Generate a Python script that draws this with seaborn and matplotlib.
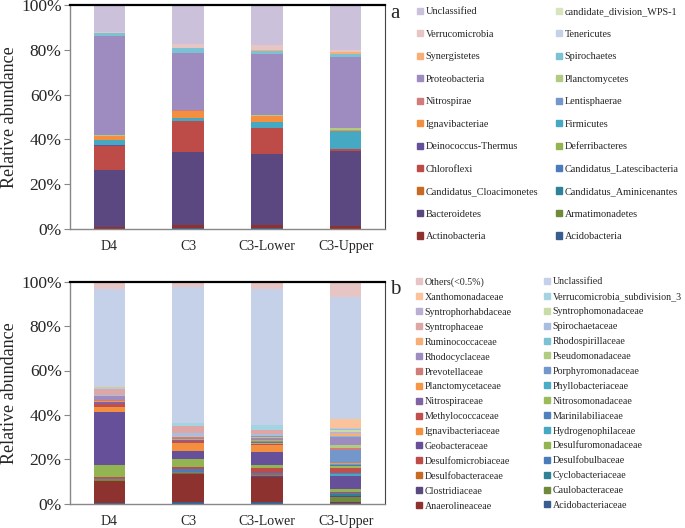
"""
Stacked relative-abundance bars at phylum (a) and family (b) level.
"""
import matplotlib
matplotlib.use("Agg")
import matplotlib.pyplot as plt
import matplotlib.patches as mpatches
import numpy as np
import seaborn as sns

sns.set_style("white")
plt.rcParams.update({
    "font.family": ["Liberation Serif", "DejaVu Serif"],
    "font.size": 10,
})

SAMPLES = ["D4", "C3", "C3-Lower", "C3-Upper"]

# ---- panel a: phyla, bottom of stack first; values per sample (%)
PHYLA = [
    "Acidobacteria", "Actinobacteria", "Armatimonadetes", "Bacteroidetes",
    "Candidatus_Aminicenantes", "Candidatus_Cloacimonetes",
    "Candidatus_Latescibacteria", "Chloroflexi", "Deferribacteres",
    "Deinococcus-Thermus", "Firmicutes", "Ignavibacteriae", "Lentisphaerae",
    "Nitrospirae", "Planctomycetes", "Proteobacteria", "Spirochaetes",
    "Synergistetes", "Tenericutes", "Verrucomicrobia",
    "candidate_division_WPS-1", "Unclassified",
]
PHYLA_VALUES = [
    [0.1, 0.5, 0.4, 0.1],
    [0.8, 1.1, 1.3, 1.1],
    [0.0, 0.1, 0.3, 0.1],
    [25.6, 32.7, 31.4, 33.6],
    [0.0, 0.0, 0.1, 0.0],
    [0.0, 0.1, 0.0, 0.0],
    [0.0, 0.0, 0.0, 0.1],
    [10.6, 13.8, 11.7, 0.6],
    [0.1, 0.0, 0.0, 0.1],
    [0.1, 0.0, 0.0, 0.0],
    [2.4, 1.2, 2.5, 8.1],
    [2.0, 3.4, 2.7, 0.2],
    [0.0, 0.0, 0.0, 0.0],
    [0.0, 0.1, 0.0, 0.3],
    [0.3, 0.2, 0.4, 0.8],
    [44.1, 25.4, 27.3, 31.8],
    [1.2, 2.0, 1.3, 1.2],
    [0.4, 0.2, 0.3, 0.8],
    [0.0, 0.1, 0.1, 0.1],
    [0.2, 1.5, 2.2, 0.8],
    [0.0, 0.0, 0.0, 0.3],
    [12.1, 17.6, 18.0, 19.9],
]

# ---- panel b: families
FAMILIES = [
    "Acidobacteriaceae", "Anaerolineaceae", "Caulobacteraceae", "Clostridiaceae",
    "Cyclobacteriaceae", "Desulfobacteraceae", "Desulfobulbaceae",
    "Desulfomicrobiaceae", "Desulfuromonadaceae", "Geobacteraceae",
    "Hydrogenophilaceae", "Ignavibacteriaceae", "Marinilabiliaceae",
    "Methylococcaceae", "Nitrosomonadaceae", "Nitrospiraceae",
    "Phyllobacteriaceae", "Planctomycetaceae", "Porphyromonadaceae",
    "Prevotellaceae", "Pseudomonadaceae", "Rhodocyclaceae", "Rhodospirillaceae",
    "Ruminococcaceae", "Spirochaetaceae", "Syntrophaceae", "Syntrophomonadaceae",
    "Syntrophorhabdaceae", "Verrucomicrobia_subdivision_3", "Xanthomonadaceae",
    "Unclassified", "Others(<0.5%)",
]
FAMILY_VALUES = [
    [0.1, 0.7, 0.6, 0.2],
    [10.1, 12.7, 11.3, 0.6],
    [0.3, 0.1, 0.2, 2.1],
    [0.2, 0.1, 0.2, 0.7],
    [0.1, 0.1, 0.2, 0.7],
    [0.5, 0.6, 0.3, 0.1],
    [0.4, 1.4, 1.2, 0.6],
    [0.5, 0.7, 2.2, 0.4],
    [5.1, 3.8, 1.1, 1.1],
    [24.1, 3.4, 6.1, 6.1],
    [0.1, 0.2, 0.1, 0.8],
    [2.0, 3.6, 2.9, 0.1],
    [0.0, 0.1, 0.1, 0.5],
    [1.4, 0.8, 0.6, 1.9],
    [0.1, 0.1, 0.2, 1.1],
    [0.8, 0.3, 0.5, 0.4],
    [0.1, 0.2, 0.3, 0.5],
    [0.3, 0.3, 0.6, 0.6],
    [0.2, 0.2, 0.5, 5.7],
    [0.1, 0.2, 0.4, 0.7],
    [0.1, 0.2, 0.3, 1.5],
    [1.8, 0.2, 0.4, 3.8],
    [0.1, 0.1, 0.2, 0.4],
    [0.2, 0.2, 0.2, 0.7],
    [0.3, 1.5, 0.5, 0.4],
    [2.6, 3.0, 2.0, 0.7],
    [0.1, 0.1, 0.1, 0.7],
    [0.1, 0.1, 0.1, 0.4],
    [0.9, 1.4, 2.0, 0.7],
    [0.1, 0.1, 0.1, 3.8],
    [43.8, 61.0, 61.1, 55.0],
    [3.4, 2.5, 3.4, 7.0],
]

# Excel-like palette: six hues, several shade levels
TONES = {
    "dark":     ["#385E8F", "#8E3230", "#6F8B3A", "#5C4880", "#2E8298", "#C86A21"],
    "base":     ["#4A7BBA", "#BD4B48", "#92B552", "#66509A", "#45A9C3", "#F48F3F"],
    "mid":      ["#4F81BD", "#C0504D", "#9BBB59", "#8064A2", "#4BACC6", "#F79646"],
    "light":    ["#7397CB", "#CF7C7A", "#B1CB80", "#9E8CC0", "#7BC2D5", "#F9AE76"],
    "lighter":  ["#A8BDDF", "#DEA7A6", "#C8DCA8", "#BAAED3", "#A4D3E1", "#FBC39B"],
    "lightest": ["#C5D1E8", "#E8C5C5", "#D7E4BD", "#CBC1DB", "#B7DEE8", "#FCD5B5"],
}


def palette(n, levels):
    return [TONES[levels[i // 6]][i % 6] for i in range(n)]


def draw_panel(fig, rect, names, values, colors, letter, letter_y,
               leg_top, col_x, spacing, leg_size):
    ax = fig.add_axes(rect)
    vals = np.array(values)
    cum = np.cumsum(vals, axis=0)
    # draw cumulative totals from the top down so each layer shows its own slice
    for i in range(len(names) - 1, -1, -1):
        sns.barplot(x=SAMPLES, y=cum[i], color=colors[i], saturation=1,
                    width=0.4, errorbar=None, linewidth=0, ax=ax)

    ax.set_xlim(-0.5, 3.5)
    ax.set_ylim(0, 100)
    ax.set_yticks(range(0, 101, 20))
    ax.set_yticklabels([f"{v}%" for v in range(0, 101, 20)], fontsize=12.5)
    ax.set_xticks(range(len(SAMPLES)))
    ax.set_xticklabels(SAMPLES, fontsize=10)
    ax.set_xticks(np.arange(-0.5, 4, 1), minor=True)
    ax.tick_params(axis="x", which="major", length=0, pad=8)
    ax.tick_params(axis="x", which="minor", length=4, color="#888888", direction="out")
    ax.tick_params(axis="y", length=4, color="#888888", direction="out", pad=2, left=True)
    ax.set_xlabel("")
    ax.set_ylabel("Relative abundance", fontsize=13)
    ax.yaxis.set_label_coords(-0.165, 0.5)

    ax.spines["top"].set_color("black")
    ax.spines["top"].set_linewidth(1.6)
    ax.spines["right"].set_color("#444444")
    for s in ("left", "bottom"):
        ax.spines[s].set_color("#888888")
        ax.spines[s].set_linewidth(1.0)

    fig.text(395 / 685, 1 - letter_y / 528, letter, fontsize=15,
             ha="center", va="center")

    handles = [mpatches.Patch(color=c, label=n) for n, c in zip(names, colors)][::-1]
    for k, x in enumerate(col_x):
        hs = handles[k::2]
        fig.legend(handles=hs, labels=[h.get_label() for h in hs],
                   loc="upper left", bbox_to_anchor=(x / 685, 1 - leg_top / 528),
                   frameon=False, fontsize=leg_size, handlelength=0.55,
                   handleheight=0.55, handletextpad=0.3, labelspacing=spacing,
                   borderpad=0, borderaxespad=0)
    return ax


fig = plt.figure(figsize=(6.85, 5.28), dpi=100)

draw_panel(fig, [70 / 685, 1 - 229 / 528, 315 / 685, 224 / 528],
           PHYLA, PHYLA_VALUES,
           palette(len(PHYLA), ["dark", "base", "light", "lightest"]),
           "a", 13, 7.5, [417, 556], 1.31, 7.4)

draw_panel(fig, [70 / 685, 1 - 503.7 / 528, 315 / 685, 222 / 528],
           FAMILIES, FAMILY_VALUES,
           palette(len(FAMILIES), ["dark", "base", "mid", "light", "lighter", "lightest"]),
           "b", 290, 277.5, [416, 544], 0.59, 7.2)

fig.savefig("out.png", dpi=100)
plt.close(fig)
